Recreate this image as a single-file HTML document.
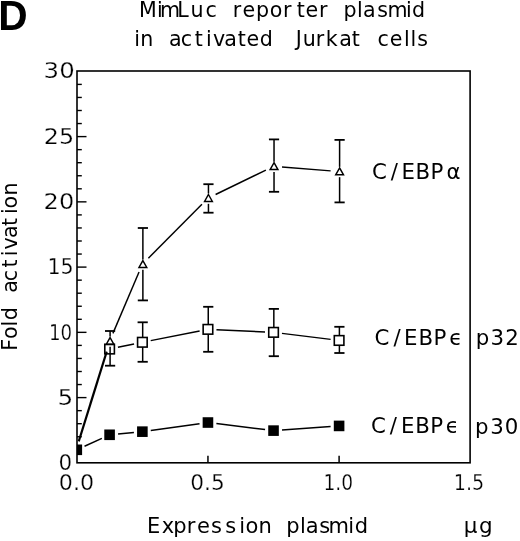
<!DOCTYPE html>
<html><head><meta charset="utf-8"><title>MimLuc reporter plasmid</title>
<style>html,body{margin:0;padding:0;background:#fff;}body{width:520px;height:541px;overflow:hidden;}svg{display:block;}</style>
</head><body>
<svg width="520" height="541" viewBox="0 0 520 541">
<g stroke="#000" fill="none" stroke-linecap="butt">
<rect x="77.00" y="71.00" width="393.10" height="391.80" fill="none" stroke-width="1.6"/>
<line x1="77.00" y1="449.80" x2="81.80" y2="449.80" stroke-width="1.4"/>
<line x1="77.00" y1="436.75" x2="81.80" y2="436.75" stroke-width="1.4"/>
<line x1="77.00" y1="423.70" x2="81.80" y2="423.70" stroke-width="1.4"/>
<line x1="77.00" y1="410.65" x2="81.80" y2="410.65" stroke-width="1.4"/>
<line x1="77.00" y1="397.60" x2="86.50" y2="397.60" stroke-width="1.4"/>
<line x1="77.00" y1="384.55" x2="81.80" y2="384.55" stroke-width="1.4"/>
<line x1="77.00" y1="371.50" x2="81.80" y2="371.50" stroke-width="1.4"/>
<line x1="77.00" y1="358.45" x2="81.80" y2="358.45" stroke-width="1.4"/>
<line x1="77.00" y1="345.40" x2="81.80" y2="345.40" stroke-width="1.4"/>
<line x1="77.00" y1="332.35" x2="86.50" y2="332.35" stroke-width="1.4"/>
<line x1="77.00" y1="319.30" x2="81.80" y2="319.30" stroke-width="1.4"/>
<line x1="77.00" y1="306.25" x2="81.80" y2="306.25" stroke-width="1.4"/>
<line x1="77.00" y1="293.20" x2="81.80" y2="293.20" stroke-width="1.4"/>
<line x1="77.00" y1="280.15" x2="81.80" y2="280.15" stroke-width="1.4"/>
<line x1="77.00" y1="267.10" x2="86.50" y2="267.10" stroke-width="1.4"/>
<line x1="77.00" y1="254.05" x2="81.80" y2="254.05" stroke-width="1.4"/>
<line x1="77.00" y1="241.00" x2="81.80" y2="241.00" stroke-width="1.4"/>
<line x1="77.00" y1="227.95" x2="81.80" y2="227.95" stroke-width="1.4"/>
<line x1="77.00" y1="214.90" x2="81.80" y2="214.90" stroke-width="1.4"/>
<line x1="77.00" y1="201.85" x2="86.50" y2="201.85" stroke-width="1.4"/>
<line x1="77.00" y1="188.80" x2="81.80" y2="188.80" stroke-width="1.4"/>
<line x1="77.00" y1="175.75" x2="81.80" y2="175.75" stroke-width="1.4"/>
<line x1="77.00" y1="162.70" x2="81.80" y2="162.70" stroke-width="1.4"/>
<line x1="77.00" y1="149.65" x2="81.80" y2="149.65" stroke-width="1.4"/>
<line x1="77.00" y1="136.60" x2="86.50" y2="136.60" stroke-width="1.4"/>
<line x1="77.00" y1="123.55" x2="81.80" y2="123.55" stroke-width="1.4"/>
<line x1="77.00" y1="110.50" x2="81.80" y2="110.50" stroke-width="1.4"/>
<line x1="77.00" y1="97.45" x2="81.80" y2="97.45" stroke-width="1.4"/>
<line x1="77.00" y1="84.40" x2="81.80" y2="84.40" stroke-width="1.4"/>
<line x1="207.95" y1="462.80" x2="207.95" y2="455.80" stroke-width="1.5"/>
<line x1="339.10" y1="462.80" x2="339.10" y2="455.80" stroke-width="1.5"/>
<line x1="112.92" y1="333.40" x2="139.04" y2="272.05" stroke-width="1.45"/>
<line x1="148.36" y1="258.20" x2="201.96" y2="204.23" stroke-width="1.45"/>
<line x1="215.60" y1="194.48" x2="265.88" y2="170.07" stroke-width="1.45"/>
<line x1="282.00" y1="167.03" x2="330.63" y2="170.90" stroke-width="1.45"/>
<line x1="117.91" y1="347.33" x2="134.05" y2="343.99" stroke-width="1.45"/>
<line x1="150.71" y1="340.62" x2="199.61" y2="330.99" stroke-width="1.45"/>
<line x1="216.44" y1="329.74" x2="265.03" y2="331.96" stroke-width="1.45"/>
<line x1="281.96" y1="333.39" x2="330.66" y2="339.40" stroke-width="1.45"/>
<line x1="84.53" y1="446.26" x2="101.86" y2="438.33" stroke-width="1.45"/>
<line x1="118.05" y1="433.98" x2="133.91" y2="432.47" stroke-width="1.45"/>
<line x1="150.79" y1="430.49" x2="199.53" y2="423.70" stroke-width="1.45"/>
<line x1="216.39" y1="423.57" x2="265.09" y2="429.58" stroke-width="1.45"/>
<line x1="282.00" y1="430.01" x2="330.62" y2="426.53" stroke-width="1.45"/>
<line x1="78.75" y1="441.40" x2="106.70" y2="351.60" stroke-width="2.2"/>
<line x1="110.09" y1="331.00" x2="110.09" y2="336.52" stroke-width="1.5"/>
<line x1="110.09" y1="346.82" x2="110.09" y2="365.70" stroke-width="1.5"/>
<line x1="104.99" y1="331.00" x2="115.19" y2="331.00" stroke-width="1.8"/>
<line x1="104.99" y1="365.70" x2="115.19" y2="365.70" stroke-width="1.8"/>
<line x1="142.88" y1="228.00" x2="142.88" y2="259.53" stroke-width="1.5"/>
<line x1="142.88" y1="269.83" x2="142.88" y2="300.40" stroke-width="1.5"/>
<line x1="137.78" y1="228.00" x2="147.97" y2="228.00" stroke-width="1.8"/>
<line x1="137.78" y1="300.40" x2="147.97" y2="300.40" stroke-width="1.8"/>
<line x1="208.45" y1="184.20" x2="208.45" y2="193.50" stroke-width="1.5"/>
<line x1="208.45" y1="203.80" x2="208.45" y2="212.70" stroke-width="1.5"/>
<line x1="203.35" y1="184.20" x2="213.55" y2="184.20" stroke-width="1.8"/>
<line x1="203.35" y1="212.70" x2="213.55" y2="212.70" stroke-width="1.8"/>
<line x1="274.03" y1="139.40" x2="274.03" y2="161.65" stroke-width="1.5"/>
<line x1="274.03" y1="171.95" x2="274.03" y2="191.80" stroke-width="1.5"/>
<line x1="268.93" y1="139.40" x2="279.13" y2="139.40" stroke-width="1.8"/>
<line x1="268.93" y1="191.80" x2="279.13" y2="191.80" stroke-width="1.8"/>
<line x1="339.60" y1="139.90" x2="339.60" y2="166.87" stroke-width="1.5"/>
<line x1="339.60" y1="177.17" x2="339.60" y2="202.40" stroke-width="1.5"/>
<line x1="334.50" y1="139.90" x2="344.70" y2="139.90" stroke-width="1.8"/>
<line x1="334.50" y1="202.40" x2="344.70" y2="202.40" stroke-width="1.8"/>
<line x1="142.68" y1="322.30" x2="142.68" y2="337.47" stroke-width="1.5"/>
<line x1="142.68" y1="347.07" x2="142.68" y2="361.80" stroke-width="1.5"/>
<line x1="137.58" y1="322.30" x2="147.78" y2="322.30" stroke-width="1.8"/>
<line x1="137.58" y1="361.80" x2="147.78" y2="361.80" stroke-width="1.8"/>
<line x1="208.25" y1="306.80" x2="208.25" y2="324.55" stroke-width="1.5"/>
<line x1="208.25" y1="334.15" x2="208.25" y2="351.80" stroke-width="1.5"/>
<line x1="203.15" y1="306.80" x2="213.35" y2="306.80" stroke-width="1.8"/>
<line x1="203.15" y1="351.80" x2="213.35" y2="351.80" stroke-width="1.8"/>
<line x1="273.83" y1="308.90" x2="273.83" y2="327.55" stroke-width="1.5"/>
<line x1="273.83" y1="337.15" x2="273.83" y2="356.20" stroke-width="1.5"/>
<line x1="268.73" y1="308.90" x2="278.93" y2="308.90" stroke-width="1.8"/>
<line x1="268.73" y1="356.20" x2="278.93" y2="356.20" stroke-width="1.8"/>
<line x1="339.40" y1="326.80" x2="339.40" y2="335.64" stroke-width="1.5"/>
<line x1="339.40" y1="345.24" x2="339.40" y2="353.00" stroke-width="1.5"/>
<line x1="334.30" y1="326.80" x2="344.50" y2="326.80" stroke-width="1.8"/>
<line x1="334.30" y1="353.00" x2="344.50" y2="353.00" stroke-width="1.8"/>
<rect x="104.79" y="344.25" width="9.60" height="9.60" stroke-width="1.6"/>
<rect x="137.57" y="337.47" width="9.60" height="9.60" stroke-width="1.6"/>
<rect x="203.15" y="324.55" width="9.60" height="9.60" stroke-width="1.6"/>
<rect x="268.73" y="327.55" width="9.60" height="9.60" stroke-width="1.6"/>
<rect x="334.30" y="335.64" width="9.60" height="9.60" stroke-width="1.6"/>
<path d="M110.09 337.52 L113.99 344.42 L106.19 344.42 Z" stroke-width="1.45" stroke-linejoin="miter"/>
<path d="M142.88 260.53 L146.78 267.43 L138.97 267.43 Z" stroke-width="1.45" stroke-linejoin="miter"/>
<path d="M208.45 194.50 L212.35 201.40 L204.55 201.40 Z" stroke-width="1.45" stroke-linejoin="miter"/>
<path d="M274.03 162.65 L277.93 169.55 L270.13 169.55 Z" stroke-width="1.45" stroke-linejoin="miter"/>
<path d="M339.60 167.87 L343.50 174.77 L335.70 174.77 Z" stroke-width="1.45" stroke-linejoin="miter"/>
<rect x="77.00" y="444.50" width="5.10" height="10.60" fill="#000" stroke="none"/>
<rect x="104.29" y="429.49" width="10.60" height="10.60" fill="#000" stroke="none"/>
<rect x="137.07" y="426.36" width="10.60" height="10.60" fill="#000" stroke="none"/>
<rect x="202.65" y="417.23" width="10.60" height="10.60" fill="#000" stroke="none"/>
<rect x="268.23" y="425.32" width="10.60" height="10.60" fill="#000" stroke="none"/>
<rect x="333.80" y="420.62" width="10.60" height="10.60" fill="#000" stroke="none"/>
</g>
<g fill="#000" font-family='"Liberation Sans", sans-serif'>
<text x="-1.75" y="29.9" font-size="42" font-weight="bold" stroke="none" textLength="29.4" lengthAdjust="spacingAndGlyphs">D</text>
<text x="138.97 156.92 159.91 177.31 190.44 205.56" y="16.9" font-size="20.6" font-family='"DejaVu Sans", sans-serif'>MimLuc</text>
<text x="232.70 242.49 256.00 269.69 283.10 296.68 305.54 318.90" y="16.9" font-size="20.6" font-family='"DejaVu Sans", sans-serif'>reporter</text>
<text x="343.60 357.07 363.00 377.27 387.46 406.02 412.12" y="16.9" font-size="20.6" font-family='"DejaVu Sans", sans-serif'>plasmid</text>
<text x="134.22 140.16" y="45.6" font-size="20.6" font-family='"DejaVu Sans", sans-serif'>in</text>
<text x="169.05 180.81 194.83 206.12 213.07 224.25 237.73 246.49 259.87" y="45.6" font-size="20.6" font-family='"DejaVu Sans", sans-serif'>activated</text>
<text x="295.83 302.64 315.75 325.85 339.20 351.68" y="45.6" font-size="20.6" font-family='"DejaVu Sans", sans-serif'>Jurkat</text>
<text x="377.61 389.84 404.12 410.47 417.22" y="45.6" font-size="20.6" font-family='"DejaVu Sans", sans-serif'>cells</text>
<text x="146.97 161.68 173.32 186.75 197.07 211.01 225.16 239.36 245.42 258.38" y="532.6" font-size="21.0" font-family='"DejaVu Sans", sans-serif'>Expression</text>
<text x="286.16 300.06 305.78 319.36 328.61 348.26 354.65" y="532.6" font-size="21.0" font-family='"DejaVu Sans", sans-serif'>plasmid</text>
<text x="463.80 479.05" y="533.2" font-size="21.5" font-family='"DejaVu Sans", sans-serif'>μg</text>
<text x="371.94 390.73 401.62 415.51 430.39 446.49" y="178.8" font-size="21.3" font-family='"DejaVu Sans", sans-serif'>C/EBPα</text>
<text x="374.40 393.43 403.97 418.51 433.39 449.20" y="345.4" font-size="21.3" font-family='"DejaVu Sans", sans-serif'>C/EBPϵ</text>
<text x="475.86 490.44 505.28" y="344.8" font-size="21.3" font-family='"DejaVu Sans", sans-serif'>p32</text>
<text x="371.05 389.83 401.07 415.16 430.24 445.65" y="432.6" font-size="21.3" font-family='"DejaVu Sans", sans-serif'>C/EBPϵ</text>
<text x="475.01 490.14 504.79" y="434.0" font-size="21.3" font-family='"DejaVu Sans", sans-serif'>p30</text>
<text x="43.60" y="78.3" font-size="21.0" textLength="31.10" lengthAdjust="spacingAndGlyphs" font-family='"DejaVu Sans", sans-serif' stroke="#fff" stroke-width="0.25">30</text>
<text x="43.80" y="143.65" font-size="21.0" textLength="30.40" lengthAdjust="spacingAndGlyphs" font-family='"DejaVu Sans", sans-serif' stroke="#fff" stroke-width="0.25">25</text>
<text x="43.60" y="209.0" font-size="21.0" textLength="30.60" lengthAdjust="spacingAndGlyphs" font-family='"DejaVu Sans", sans-serif' stroke="#fff" stroke-width="0.25">20</text>
<text x="47.40" y="274.35" font-size="21.0" textLength="26.30" lengthAdjust="spacingAndGlyphs" font-family='"DejaVu Sans", sans-serif' stroke="#fff" stroke-width="0.25">15</text>
<text x="48.90" y="339.7" font-size="21.0" textLength="23.25" lengthAdjust="spacingAndGlyphs" font-family='"DejaVu Sans", sans-serif' stroke="#fff" stroke-width="0.25">10</text>
<text x="57.40" y="405.05" font-size="21.0" textLength="15.75" lengthAdjust="spacingAndGlyphs" font-family='"DejaVu Sans", sans-serif' stroke="#fff" stroke-width="0.25">5</text>
<text x="58.40" y="470.4" font-size="21.0" textLength="13.67" lengthAdjust="spacingAndGlyphs" font-family='"DejaVu Sans", sans-serif' stroke="#fff" stroke-width="0.25">0</text>
<text x="58.80" y="490.4" font-size="21.0" textLength="35.30" lengthAdjust="spacingAndGlyphs" font-family='"DejaVu Sans", sans-serif' stroke="#fff" stroke-width="0.25">0.0</text>
<text x="190.20" y="490.4" font-size="21.0" textLength="34.50" lengthAdjust="spacingAndGlyphs" font-family='"DejaVu Sans", sans-serif' stroke="#fff" stroke-width="0.25">0.5</text>
<text x="323.40" y="490.4" font-size="21.0" textLength="29.75" lengthAdjust="spacingAndGlyphs" font-family='"DejaVu Sans", sans-serif' stroke="#fff" stroke-width="0.25">1.0</text>
<text x="453.80" y="490.4" font-size="21.0" textLength="30.40" lengthAdjust="spacingAndGlyphs" font-family='"DejaVu Sans", sans-serif' stroke="#fff" stroke-width="0.25">1.5</text>
<text transform="rotate(-90)" x="-350.82 -339.04 -326.45 -320.36" y="17.0" font-size="20.7" font-family='"DejaVu Sans", sans-serif'>Fold</text>
<text transform="rotate(-90)" x="-292.83 -281.21 -267.49 -256.15 -249.56 -238.03 -225.89 -214.00 -208.54 -195.52" y="17.0" font-size="20.7" font-family='"DejaVu Sans", sans-serif'>activation</text>
</g>
</svg>
</body></html>
